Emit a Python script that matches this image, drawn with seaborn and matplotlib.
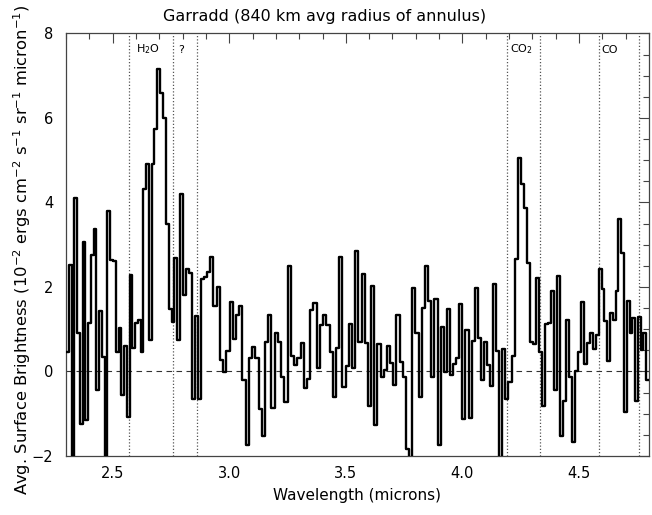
import numpy as np
import pandas as pd
import matplotlib
matplotlib.use("Agg")
import matplotlib.pyplot as plt
import seaborn as sns
from matplotlib.ticker import MultipleLocator

# Wavelength anchors (microns) bounding each group of spectral bins
segment_bounds = [2.300, 2.703, 2.877, 3.527, 3.934, 4.237, 4.394, 4.585, 4.800]

# Surface brightness per bin (1e-2 ergs cm^-2 s^-1 sr^-1 micron^-1)
seg1 = [0.46, 2.53, -2.5, 4.1, 0.92, -1.24, 3.06, -1.15, 1.15, 2.75, 3.37, -0.43,
        1.43, 0.35, -2.5, 3.8, 2.65, 2.62, 0.46, 1.02, -0.55, 0.6, -1.07, 2.29,
        0.55, 1.15, 1.22, 0.46, 4.31, 4.9, 0.74, 4.9, 5.73, 7.16]
seg2 = [6.59, 5.99, 3.49, 1.48, 1.17, 2.68, 0.75, 4.19, 1.82, 2.43, 2.32, -0.65,
        1.31, -0.65]
seg3 = [2.19, 2.24, 2.36, 2.71, 1.55, 2.0, 0.27, -0.02, 0.49, 1.64, 0.76, 1.33,
        1.56, -0.2, -1.75, 0.33, 0.59, 0.33, -0.89, -1.53, 0.7, 1.33, -0.86, 0.92,
        0.7, -0.13, -0.73, 2.5, 0.37, 0.15, 0.31, 0.68, -0.38, -0.18, 1.45, 1.63,
        0.08, 1.09, 1.34, 1.09, 0.45, -0.61, 0.55, 2.7, -0.36, 0.12, 1.13]
seg4 = [0.09, 2.84, 0.7, 2.31, 0.67, -0.82, 2.03, -1.26, 0.66, -0.13, 0.03, 0.6,
        0.21, -0.31, 1.33, 0.23, -0.13, -1.83, -2.3, 1.97, 0.9, -0.61, 1.51, 2.5,
        1.67, -0.13, 1.72, -1.74, 1.06, -0.01]
seg5 = [1.48, -0.09, 0.17, 0.33, 1.59, -1.12, 0.98, -1.1, 0.72, 1.97, 0.8, -0.2,
        0.7, 0.15, -0.34, 2.06, 0.49, -2.5, 0.53, -0.64, -0.25, 0.37, 2.66]
seg6 = [5.06, 4.44, 3.88, 2.57, 0.7, 0.66, 2.22, 0.46, -0.82, 1.12, 1.15, 1.9]
seg7 = [-0.43, 2.25, -1.52, -0.69, 1.23, -0.14, -1.67, 0.02, 0.46, 1.64, 0.17,
        0.68, 0.9, 0.54, 0.86]
seg8 = [2.43, 1.96, 1.19, 0.25, 1.39, 1.23, 1.9, 3.6, 2.8, -0.97, 1.67, 0.9,
        1.27, -0.71, 1.3, 0.5, 0.9, -0.2]

# Band markers (dotted lines) and labels
band_lines = [2.572, 2.760, 2.863, 4.189, 4.334, 4.585, 4.757]
band_labels = ["H$_2$O", "?", "CO$_2$", "CO"]
band_label_x = [2.599, 2.781, 4.203, 4.597]

segments = [seg1, seg2, seg3, seg4, seg5, seg6, seg7, seg8]
edges, vals = [], []
for i, seg in enumerate(segments):
    e = np.linspace(segment_bounds[i], segment_bounds[i + 1], len(seg) + 1)[:-1]
    edges.extend(e)
    vals.extend(seg)
edges.append(segment_bounds[-1])
vals.append(vals[-1])
df = pd.DataFrame({"wavelength": edges, "brightness": vals})

sns.set_style("white")
plt.rcParams["font.family"] = ["DejaVu Sans"]
plt.rcParams["text.color"] = "black"
plt.rcParams["axes.labelcolor"] = "black"
plt.rcParams["xtick.labelcolor"] = "black"
plt.rcParams["ytick.labelcolor"] = "black"

fig = plt.figure(figsize=(6.52, 5.15), dpi=100)
ax = fig.add_axes([0.1012, 0.1146, 0.8942, 0.8204])

for xv in band_lines:
    ax.axvline(xv, color="#555555", lw=0.9, ls=(0, (1, 1.6)), zorder=1)
ax.axhline(0, color="#333333", lw=0.8, ls=(0, (5, 4)), zorder=1)

sns.lineplot(data=df, x="wavelength", y="brightness", drawstyle="steps-post",
             sort=False, estimator=None, color="black", lw=1.7, ax=ax, zorder=3)

for lab, xv in zip(band_labels, band_label_x):
    ax.text(xv, 7.62, lab, fontsize=8, va="center", ha="left", color="black")

ax.set_xlim(2.3, 4.8)
ax.set_ylim(-2, 8)
ax.xaxis.set_major_locator(MultipleLocator(0.5))
ax.xaxis.set_minor_locator(MultipleLocator(0.1))
ax.yaxis.set_major_locator(MultipleLocator(2))
ax.yaxis.set_minor_locator(MultipleLocator(0.5))
ax.xaxis.set_major_formatter(matplotlib.ticker.FormatStrFormatter("%.1f"))
ax.tick_params(which="both", direction="in", top=True, right=True,
               color="#444444", width=0.8, labelsize=10.5)
ax.tick_params(which="major", length=7)
ax.tick_params(which="minor", length=4)
ax.tick_params(axis="x", which="major", pad=7)
ax.tick_params(axis="y", which="major", pad=9)
for sp in ax.spines.values():
    sp.set_color("#444444")
    sp.set_linewidth(0.9)

ax.set_xlabel("Wavelength (microns)", fontsize=11, labelpad=5)
ax.set_ylabel("")
fig.text(22 / 652, 0.515,
         "Avg. Surface Brightness (10$^{-2}$ ergs cm$^{-2}$ s$^{-1}$ sr$^{-1}$ micron$^{-1}$)",
         rotation=90, ha="center", va="center", fontsize=11.8)
fig.text(0.4985, 1 - 17 / 515, "Garradd (840 km avg radius of annulus)",
         ha="center", va="center", fontsize=11.5)

fig.savefig("out.png", dpi=100)
